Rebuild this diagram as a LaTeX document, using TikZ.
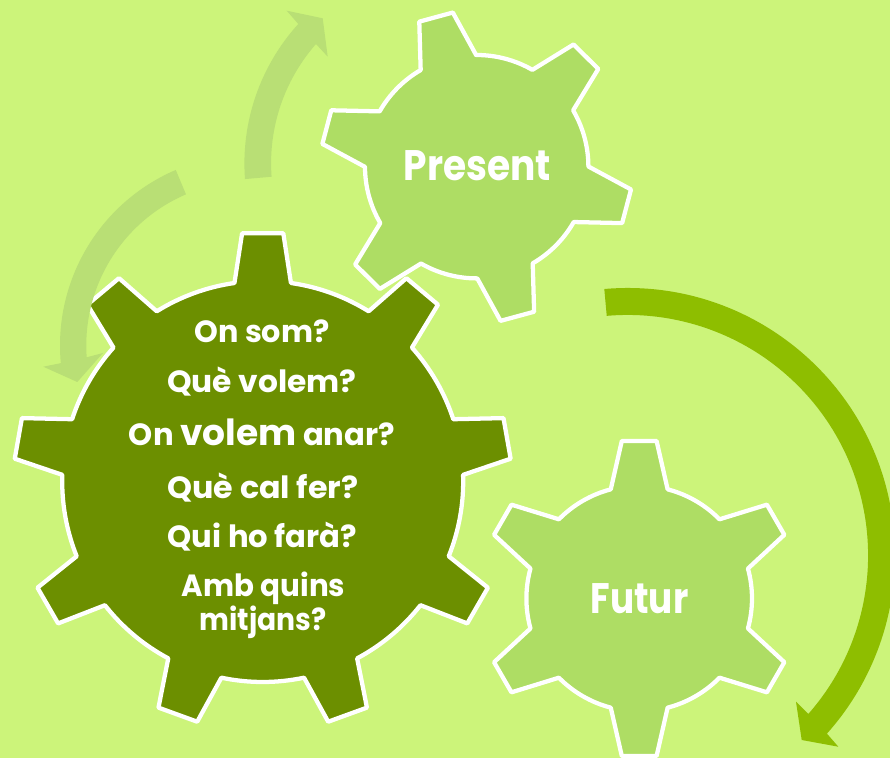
\documentclass[tikz,border=0pt]{standalone}
\usepackage{graphicx}
\usepackage{fontspec}
\setmainfont{Poppins}
\definecolor{bgc}{HTML}{CCF47A}
\definecolor{gearlight}{HTML}{AEDD64}
\definecolor{geardark}{HTML}{6C8F00}
\definecolor{arrowdark}{HTML}{8EBE00}
\definecolor{arrowpale}{HTML}{B9DF75}
\tikzset{
  gearshape/.style={draw=white,line width=3.2pt,line join=round},
  labeltext/.style={text=white,align=center,inner sep=0pt,anchor=base},
  big/.style={labeltext,font=\fontsize{23}{25}\selectfont\bfseries},
  huge/.style={labeltext,font=\fontsize{32}{36}\selectfont\bfseries}
}
% \gearpath{cx}{cy}{first tooth}{step}{rbase}{rtip}{abase}{atip}{style}
\newcommand{\gearpath}[9]{%
  \begin{scope}[shift={(#1,#2)}]
    \pgfmathsetmacro{\stepend}{#3+360-#4}
    \pgfmathsetmacro{\secondt}{#3+#4}
    \path[#9] (#3-#7:#5)
      \foreach \t in {#3,\secondt,...,\stepend}{
        -- (\t-#8:#6) -- (\t+#8:#6) -- (\t+#7:#5)
        arc[start angle=\t+#7,end angle=\t+#4-#7,radius=#5]
      } -- cycle;
  \end{scope}}
\newcommand{\sx}[2]{\scalebox{#1}[1]{#2}}
\begin{document}
\begin{tikzpicture}[x=.75pt,y=.75pt]
\useasboundingbox (0,0) rectangle (890,758);
\fill[bgc] (0,0) rectangle (890,758);
% upper pale arrow
\begin{scope}[shift={(452,594.5)}]
\fill[arrowpale] (184.3:207.6) arc[start angle=184.3,end angle=137.8,radius=207.6]
  -- (298.3-452,734-594.5+0) -- (286.7-452,747.3-594.5) -- (322.7-452,739.7-594.5)
  -- (327.7-452,701.3-594.5) -- (316-452,714-594.5)
  arc[start angle=138.7,end angle=184.3,radius=180.6] -- cycle;
\end{scope}
% gears
\gearpath{262.7}{276.5}{90}{40}{200.5}{249}{8.1}{4.75}{gearshape,fill=geardark}
\gearpath{476.7}{591.3}{105.2}{60}{111.7}{156}{14.9}{6.4}{gearshape,fill=gearlight}
\gearpath{639.2}{159.5}{90}{60}{112.8}{158.5}{14.6}{6.3}{gearshape,fill=gearlight}
% left pale arrow, over the outline of the large gear
\begin{scope}[shift={(251,412.5)}]
\fill[arrowpale] (113.2:191) arc[start angle=113.2,end angle=185.3,radius=191]
  -- (43.3-251,391.3-412.5) -- (77.3-251,376-412.5) -- (103-251,405-412.5)
  -- (86.7-251,400.7-412.5)
  arc[start angle=184.1,end angle=113.2,radius=164.5] -- cycle;
\end{scope}
% dark arrow
\begin{scope}[shift={(627.6,202.6)}]
\fill[arrowdark] (95:267.4) arc[start angle=95,end angle=-41.8,radius=267.4]
  -- (838.3-627.6,11.3-202.6) -- (801.7-627.6,18-202.6) -- (796-627.6,56.3-202.6)
  -- (808.3-627.6,44-202.6)
  arc[start angle=-41.3,end angle=95,radius=240.4] -- cycle;
\end{scope}
% labels
\node[big] (onsom) at (262,415.3) {\sx{.987}{On som?}};
\node[big] (quevolem) at (262,365.7) {\sx{1.02}{Què volem?}};
\node[big] (onvolem) at (262,312) {\sx{1}{On {\fontsize{27}{30}\selectfont volem} anar?}};
\node[big] (quecal) at (263,259.7) {\sx{1.035}{Què cal fer?}};
\node[big] (quiho) at (262.5,210.7) {\sx{1}{Qui ho farà?}};
\node[big] (amb) at (263.5,161.3) {\sx{.957}{Amb quins}};
\node[big] (mitjans) at (263,127.3) {\sx{.92}{mitjans?}};
\node[huge] (present) at (477.5,577.3) {\sx{.88}{Present}};
\node[huge] (futur) at (639.5,145) {\sx{.84}{Futur}};
\end{tikzpicture}
\end{document}
